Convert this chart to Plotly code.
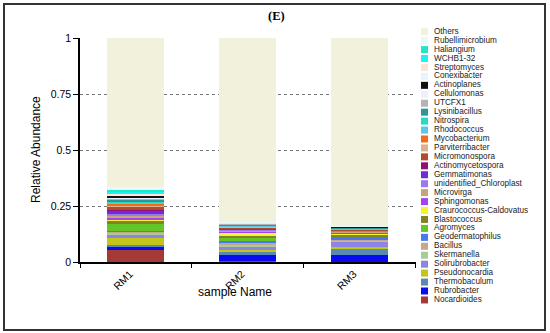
import plotly.graph_objects as go

samples = ["RM1", "RM2", "RM3"]

# stacking order: bottom -> top (Others last)
genera = ["Nocardioides", "Rubrobacter", "Thermobaculum", "Pseudonocardia", "Solirubrobacter",
          "Skermanella", "Bacillus", "Geodermatophilus", "Agromyces", "Blastococcus",
          "Craurococcus-Caldovatus", "Sphingomonas", "Microvirga", "unidentified_Chloroplast",
          "Gemmatimonas", "Actinomycetospora", "Micromonospora", "Parviterribacter",
          "Mycobacterium", "Rhodococcus", "Nitrospira", "Lysinibacillus", "UTCFX1",
          "Cellulomonas", "Actinoplanes", "Conexibacter", "Streptomyces", "WCHB1-32",
          "Haliangium", "Rubellimicrobium", "Others"]

colors = ["#A33A36", "#0A0AF0", "#5A88B4", "#C4C41A", "#8A86E4",
          "#A8CC98", "#C4A888", "#4A76F2", "#62C626", "#838326",
          "#F4F424", "#A244F2", "#C4A478", "#9C78EE",
          "#6A2FD8", "#930F78", "#B24A2C", "#DDB08E",
          "#F26A1E", "#5CC6E4", "#22DCC4", "#2E9696", "#B4B4B4",
          "#EEF0FC", "#111111", "#E8F4FB", "#FDE3D3", "#1EF2F2",
          "#22E6C3", "#E6FAFA", "#F2F2DC"]

rm1 = [0.055, 0.015, 0.005, 0.030, 0.015, 0.010, 0.005, 0.005, 0.033, 0.008,
       0.010, 0.008, 0.005, 0.010, 0.015, 0.005, 0.015, 0.005, 0.005, 0.008,
       0.005, 0.005, 0.005, 0.005, 0.008, 0.005, 0.005, 0.008, 0.010, 0.010, 0.667]
rm2 = [0.003, 0.027, 0.018, 0.004, 0.016, 0.006, 0.012, 0.012, 0.008, 0.012,
       0.012, 0.006, 0.006, 0.004, 0.002, 0.002, 0.004, 0.005, 0.001, 0.003,
       0.001, 0.002, 0.004, 0.001, 0.001, 0.002, 0.002, 0.0005, 0.0005, 0.002, 0.821]
rm3 = [0.002, 0.028, 0.028, 0.010, 0.024, 0.004, 0.004, 0.008, 0.003, 0.008,
       0.010, 0.003, 0.004, 0.003, 0.001, 0.001, 0.002, 0.002, 0.001, 0.004,
       0.001, 0.001, 0.003, 0.001, 0.0005, 0.001, 0.001, 0.0005, 0.0005, 0.002, 0.8385]

y_ticks = [0, 0.25, 0.5, 0.75, 1]
y_ticklabels = ["0", "0.25", "0.5", "0.75", "1"]
grid_vals = [0.25, 0.5, 0.75]

FONT = "Arial, Liberation Sans, sans-serif"

fig = go.Figure()

for i, g in enumerate(genera):
    fig.add_trace(go.Bar(
        x=samples, y=[rm1[i], rm2[i], rm3[i]], name=g,
        marker=dict(color=colors[i], line=dict(width=0)),
        width=0.51, showlegend=False, xaxis="x", yaxis="y",
    ))

# custom legend (top: Others, bottom: Nocardioides)
leg_names = genera[::-1]
leg_colors = colors[::-1]
leg_pos = list(range(len(leg_names)))
fig.add_trace(go.Scatter(
    x=[0] * len(leg_names), y=leg_pos, mode="markers",
    marker=dict(symbol="square", size=7, color=leg_colors, line=dict(width=0)),
    xaxis="x2", yaxis="y2", showlegend=False, hoverinfo="skip", cliponaxis=False,
))
fig.add_trace(go.Scatter(
    x=[0.078] * len(leg_names), y=leg_pos, mode="text", text=leg_names,
    textposition="middle right",
    textfont=dict(family=FONT, size=8.2, color="#222"),
    xaxis="x2", yaxis="y2", showlegend=False, hoverinfo="skip", cliponaxis=False,
))

# grid helper axis trace (invisible)
fig.add_trace(go.Scatter(x=[None], y=[None], xaxis="x", yaxis="y3", showlegend=False))

# plot area: l=80, r=4, t=24, b=26 -> x 80..546, y 24..307
W, H = 550, 333
L, R, T, B = 80, 4, 24, 26
pw = W - L - R
ph = H - T - B

def px_x(px):
    return (px - L) / pw

def px_y(py):
    return (H - B - py) / ph

x_dom = [0, px_x(415.5)]
y_dom = [px_y(262), px_y(38)]

fig.update_layout(
    width=W, height=H,
    margin=dict(l=L, r=R, t=T, b=B),
    paper_bgcolor="white", plot_bgcolor="white",
    barmode="stack", bargap=0.49,
    font=dict(family=FONT, color="black"),
    xaxis=dict(domain=x_dom, range=[-0.5, 2.5], type="category",
               showline=True, linecolor="black", linewidth=1.6,
               ticks="outside", tickson="boundaries", ticklen=4, tickcolor="black", tickwidth=1.2,
               tickangle=-45, tickfont=dict(size=10.5, family=FONT), ticklabelshift=-6,
               showgrid=False, zeroline=False, anchor="y"),
    yaxis=dict(domain=y_dom, range=[0, 1], tickvals=y_ticks, ticktext=y_ticklabels,
               showline=True, linecolor="black", linewidth=1.6,
               ticks="outside", ticklen=5, tickcolor="black", tickwidth=1.2,
               tickfont=dict(size=10.5, family=FONT),
               showgrid=False, zeroline=False, anchor="x"),
    yaxis3=dict(domain=y_dom, range=[0, 1], overlaying="y", tickvals=grid_vals,
                showticklabels=False, showgrid=True, gridcolor="#777", gridwidth=0.8,
                griddash="3px,3px", showline=False, zeroline=False, ticks="", anchor="x",
                layer="below traces"),
    xaxis2=dict(domain=[px_x(424.5), 1], range=[0, 1], visible=False, anchor="y2", fixedrange=True),
    yaxis2=dict(domain=[0, 1], range=[30.79, -0.86], visible=False, anchor="x2", fixedrange=True),
    annotations=[
        dict(text="<b>(E)</b>", x=px_x(276), y=px_y(16), xref="paper", yref="paper",
             xanchor="center", yanchor="middle",
             showarrow=False, font=dict(family="Liberation Serif, Times New Roman, serif", size=12.5)),
        dict(text="Relative Abundance", x=px_x(36), y=px_y(150), xref="paper", yref="paper",
             xanchor="center", yanchor="middle",
             showarrow=False, textangle=-90, font=dict(family=FONT, size=12)),
        dict(text="sample Name", x=px_x(235), y=px_y(292), xref="paper", yref="paper",
             xanchor="center", yanchor="middle",
             showarrow=False, font=dict(family=FONT, size=12)),
    ],
    shapes=[
        dict(type="rect", xref="paper", yref="paper",
             x0=px_x(4), x1=px_x(545), y0=px_y(330), y1=px_y(4),
             line=dict(color="#333", width=2), fillcolor="rgba(0,0,0,0)", layer="above"),
    ],
)

fig.write_html("out.html", config={"displayModeBar": False},
               post_script="document.body.style.margin='0';document.body.style.padding='0';")
